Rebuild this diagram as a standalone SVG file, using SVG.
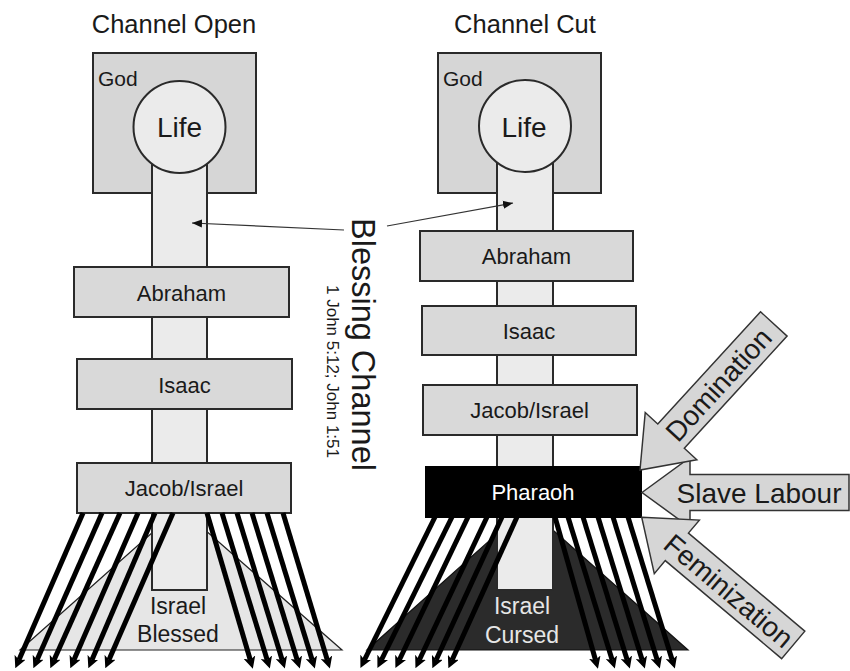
<svg xmlns="http://www.w3.org/2000/svg" width="850" height="671" viewBox="0 0 850 671">
<defs>
<style>
text{font-family:"Liberation Sans",Arial,sans-serif;fill:#1a1a1a}
.god{fill:#d6d6d6;stroke:#2a2a2a;stroke-width:2}
.pil{fill:#ebebeb;stroke:#2a2a2a;stroke-width:2}
.box{fill:#d9d9d9;stroke:#2a2a2a;stroke-width:2}
.lbl{font-size:22px;text-anchor:middle}
.life{font-size:28px;text-anchor:middle}
.big{fill:#d6d6d6;stroke:#333;stroke-width:1.5}
.bt{font-size:28px;text-anchor:middle}
.fan{stroke:#000;stroke-width:5;fill:none;marker-end:url(#ah)}
.thin{stroke:#333;stroke-width:1.2;fill:none;marker-end:url(#sm)}
</style>
<marker id="ah" viewBox="0 0 12 12" refX="3" refY="6" markerWidth="12" markerHeight="12" markerUnits="userSpaceOnUse" orient="auto">
<path d="M0,0 L12,6 L0,12 L3,6 z" fill="#000"/>
</marker>
<marker id="sm" viewBox="0 0 10 10" refX="10" refY="5" markerWidth="10" markerHeight="10" markerUnits="userSpaceOnUse" orient="auto">
<path d="M0,1 L10,5 L0,9 z" fill="#111"/>
</marker>
<polygon id="barrow" points="0,0 48,-35 48,-18 207,-18 207,18 48,18 48,35"/>
</defs>
<rect width="850" height="671" fill="#fff"/>

<text x="174" y="33" style="font-size:25.5px;text-anchor:middle">Channel Open</text>
<text x="525" y="33" style="font-size:25.5px;text-anchor:middle">Channel Cut</text>

<!-- LEFT DIAGRAM -->
<g id="left-israel-blessed">
<polygon points="180,508 20,650 342,650" fill="#e6e6e6" stroke="#222" stroke-width="1.2"/>
</g>
<g id="left-god">
<rect class="god" x="93" y="53" width="163" height="140"/>
<text x="98" y="86" style="font-size:21px">God</text>
</g>
<g id="left-channel">
<rect class="pil" x="152" y="150" width="55" height="440"/>
</g>
<g id="left-life">
<circle class="pil" cx="179.5" cy="127" r="46"/>
<text class="life" x="179.5" y="137">Life</text>
</g>
<g id="left-abraham">
<rect class="box" x="74" y="267" width="215" height="50"/>
<text class="lbl" x="181.5" y="301">Abraham</text>
</g>
<g id="left-isaac">
<rect class="box" x="77" y="359" width="215" height="50"/>
<text class="lbl" x="184.5" y="393">Isaac</text>
</g>
<g id="left-jacob">
<rect class="box" x="77" y="463" width="214" height="50"/>
<text class="lbl" x="184" y="496">Jacob/Israel</text>
</g>
<g id="left-israel-text">
<text x="178" y="614" style="font-size:23px;text-anchor:middle">Israel</text>
<text x="178" y="642" style="font-size:23px;text-anchor:middle">Blessed</text>
</g>

<!-- RIGHT DIAGRAM -->
<g id="right-israel-cursed">
<polygon points="527,507 367,650 688,650" fill="#2b2b2b" stroke="#111" stroke-width="1.2"/>
</g>
<g id="right-god">
<rect class="god" x="438" y="53" width="163" height="140"/>
<text x="443" y="86" style="font-size:21px">God</text>
</g>
<g id="right-channel">
<rect class="pil" x="497" y="150" width="56" height="440"/>
</g>
<g id="right-life">
<circle class="pil" cx="525" cy="126" r="46"/>
<text class="life" x="524" y="136.5">Life</text>
</g>
<g id="right-abraham">
<rect class="box" x="420" y="231" width="213" height="50"/>
<text class="lbl" x="526.5" y="264">Abraham</text>
</g>
<g id="right-isaac">
<rect class="box" x="422" y="306" width="214" height="49"/>
<text class="lbl" x="529" y="339">Isaac</text>
</g>
<g id="right-jacob">
<rect class="box" x="423" y="385" width="214" height="50"/>
<text class="lbl" x="529.5" y="418">Jacob/Israel</text>
</g>
<g id="right-pharaoh">
<rect x="426" y="467" width="215" height="50" fill="#000" stroke="#000" stroke-width="2"/>
<text class="lbl" x="533" y="500" style="fill:#fff">Pharaoh</text>
</g>
<g id="right-israel-text">
<text x="522" y="614" style="font-size:23px;text-anchor:middle;fill:#e6e6e6">Israel</text>
<text x="522" y="643" style="font-size:23px;text-anchor:middle;fill:#e6e6e6">Cursed</text>
</g>

<!-- Blessing Channel label -->
<g id="blessing-label">
<text transform="translate(352,218) rotate(90)" style="font-size:32.5px">Blessing Channel</text>
<text transform="translate(327,285) rotate(90)" style="font-size:17px">1 John 5:12; John 1:51</text>
</g>

<!-- Block arrows -->
<g id="slave-labour">
<use href="#barrow" class="big" transform="translate(642,492.5)"/>
<text class="bt" x="759" y="503">Slave Labour</text>
</g>
<g id="domination">
<g transform="translate(640,470) rotate(-47.5)">
<use href="#barrow" class="big" transform="scale(0.957,1)"/>
<text class="bt" x="116" y="10">Domination</text>
</g>
</g>
<g id="feminization">
<g transform="translate(641.7,517.3) rotate(40.1)">
<use href="#barrow" class="big" transform="scale(0.957,1)"/>
<text class="bt" x="114" y="10">Feminization</text>
</g>
</g>

<!-- Connectors -->
<g id="connectors">
<line class="thin" x1="344" y1="230" x2="192" y2="223"/>
<line class="thin" x1="387" y1="226" x2="513" y2="203"/>

<line class="fan" x1="83" y1="513" x2="18.9" y2="660"/>
<line class="fan" x1="102" y1="513" x2="37" y2="660"/>
<line class="fan" x1="120" y1="513" x2="54" y2="660"/>
<line class="fan" x1="138" y1="513" x2="73.9" y2="660"/>
<line class="fan" x1="155" y1="513" x2="91.9" y2="660"/>
<line class="fan" x1="173" y1="513" x2="108.9" y2="660"/>
<line class="fan" x1="207" y1="513" x2="250.3" y2="660"/>
<line class="fan" x1="222" y1="513" x2="267.2" y2="660"/>
<line class="fan" x1="237" y1="513" x2="282.2" y2="660"/>
<line class="fan" x1="252" y1="513" x2="297.2" y2="660"/>
<line class="fan" x1="267" y1="513" x2="312.2" y2="660"/>
<line class="fan" x1="283" y1="513" x2="327.3" y2="660"/>

<line class="fan" x1="435" y1="517" x2="364.4" y2="660"/>
<line class="fan" x1="452" y1="517" x2="381.4" y2="660"/>
<line class="fan" x1="468" y1="517" x2="399.3" y2="660"/>
<line class="fan" x1="487" y1="517" x2="419.3" y2="660"/>
<line class="fan" x1="502" y1="517" x2="436.1" y2="660"/>
<line class="fan" x1="517" y1="517" x2="452.1" y2="660"/>
<line class="fan" x1="555" y1="517" x2="595.5" y2="660"/>
<line class="fan" x1="568" y1="517" x2="612.2" y2="660"/>
<line class="fan" x1="583" y1="517" x2="627.2" y2="660"/>
<line class="fan" x1="598" y1="517" x2="642.2" y2="660"/>
<line class="fan" x1="613" y1="517" x2="657.2" y2="660"/>
<line class="fan" x1="628" y1="517" x2="672.2" y2="660"/>
</g>
</svg>
